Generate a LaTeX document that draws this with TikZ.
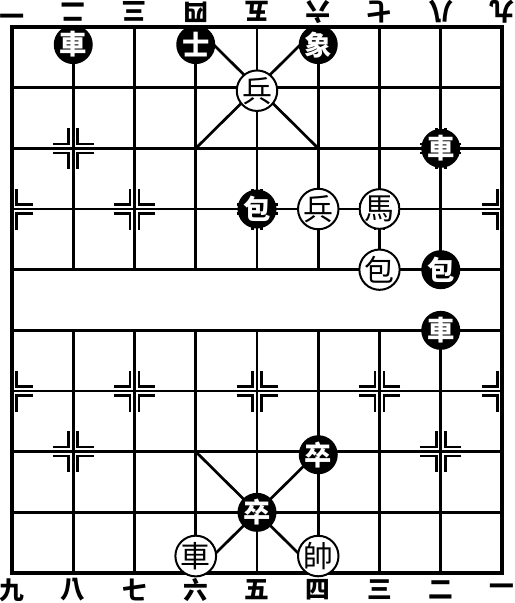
\documentclass[tikz,border=0pt]{standalone}
\usepackage{fontspec}
\newfontfamily\cjk{Noto Sans CJK TC}[Scale=1.3]
\usetikzlibrary{calc}
\tikzset{
  boardline/.style={line width=2.7pt},
  boardframe/.style={line width=3.4pt},
  posmarkline/.style={line width=2.6pt},
  redpiece/.style={circle,draw,line width=2pt,fill=white,minimum size=38pt,
        inner sep=0pt,font={\fontsize{23}{23}\selectfont\cjk}},
  blackpiece/.style={circle,fill=black,text=white,minimum size=39pt,
        inner sep=0pt,font={\fontsize{21}{21}\selectfont\cjk\bfseries}},
  filelabel/.style={inner sep=0pt,font={\fontsize{19}{19}\selectfont\cjk\bfseries}},
}
% corner marks round a point: column, row, sides
\newcommand{\posmark}[3]{%
  \foreach \sx in {#3}{\foreach \sy in {-1,1}{
    \draw[posmarkline] ($(#1,#2)+(\sx*4.5pt,\sy*4.5pt)$) ++(\sx*16pt,0pt)
        -- ++(-\sx*16pt,0pt) -- ++(0pt,\sy*16pt);
  }}%
}

\begin{document}
\begin{tikzpicture}[x={(61.25pt,0pt)},y={(0pt,-60.67pt)}]
  \useasboundingbox (-0.196,-0.445) rectangle (8.196,9.494);
  % board
  \draw[boardframe] (0,0) rectangle (8,9);
  \foreach \r in {1,...,8} \draw[boardline] (0,\r) -- (8,\r);
  \foreach \c in {1,...,7} {
    \draw[boardline] (\c,0) -- (\c,4);
    \draw[boardline] (\c,5) -- (\c,9);
  }
  \draw[boardline] (3,0) -- (5,2) (5,0) -- (3,2);
  \draw[boardline] (3,7) -- (5,9) (5,7) -- (3,9);
  % marks
  \posmark{1}{2}{-1,1}
  \posmark{7}{2}{-1,1}
  \posmark{0}{3}{1}
  \posmark{2}{3}{-1,1}
  \posmark{4}{3}{-1,1}
  \posmark{6}{3}{-1,1}
  \posmark{8}{3}{-1}
  \posmark{0}{6}{1}
  \posmark{2}{6}{-1,1}
  \posmark{4}{6}{-1,1}
  \posmark{6}{6}{-1,1}
  \posmark{8}{6}{-1}
  \posmark{1}{7}{-1,1}
  \posmark{7}{7}{-1,1}
  % file numbers
  \foreach \c/\t in {0/一,1/二,2/三,3/四,4/五,5/六,6/七,7/八,8/九}
    \node[filelabel,rotate=180] (top\c) at (\c,-0.25) {\t};
  \foreach \c/\t in {0/九,1/八,2/七,3/六,4/五,5/四,6/三,7/二,8/一}
    \node[filelabel] (bot\c) at (\c,9.28) {\t};
  % black side
  \node[blackpiece] (bche) at (1,0.29) {車};
  \node[blackpiece] (bshi) at (3,0.29) {士};
  \node[blackpiece] (bxiang) at (5,0.29) {象};
  \node[blackpiece] (bcheb) at (7,2) {車};
  \node[blackpiece] (bpaoa) at (4,3) {包};
  \node[blackpiece] (bpaob) at (7,4) {包};
  \node[blackpiece] (bchec) at (7,5) {車};
  \node[blackpiece] (bzua) at (5,7.05) {卒};
  \node[blackpiece] (bzub) at (4,8) {卒};
  % red side
  \node[redpiece] (rbinga) at (4,1.05) {兵};
  \node[redpiece] (rbingb) at (5,3) {兵};
  \node[redpiece] (rma) at (6,3) {馬};
  \node[redpiece] (rpao) at (6,4) {包};
  \node[redpiece] (rche) at (3,8.72) {車};
  \node[redpiece] (rshuai) at (5,8.72) {帥};
\end{tikzpicture}
\end{document}
